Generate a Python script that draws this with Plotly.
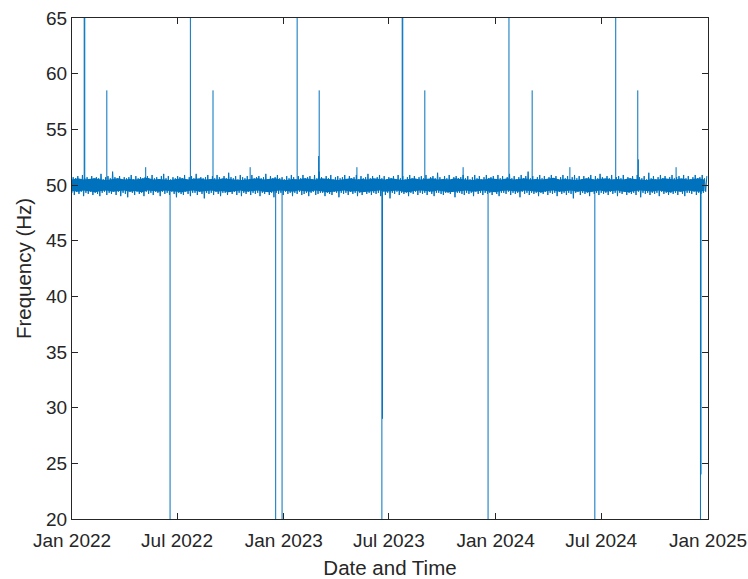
import pandas as pd
import plotly.graph_objects as go

# ---- data ----
start_date = "2022-01-01"
# background frequency samples (Hz), one every 2 days
noise_hz = [
    49.3,50.7,49.1,50.6,49.4,50.8,49.2,50.5,49.4,50.9,49.0,50.6,49.3,50.7,49.2,50.5,49.4,50.8,49.1,50.6,
    49.3,50.7,49.2,50.6,49.0,51.0,49.3,50.5,49.4,50.7,49.1,50.8,49.3,50.6,49.2,51.2,49.4,50.7,49.1,50.6,
    49.4,50.8,49.0,50.5,49.3,50.7,49.2,50.6,48.9,50.7,49.4,50.9,49.3,50.5,49.1,50.8,49.4,50.6,49.2,50.7,
    49.3,50.6,49.0,50.7,49.4,50.8,49.2,50.5,49.3,50.9,49.1,50.6,49.4,50.7,49.3,50.5,49.0,50.8,49.4,51.0,
    49.2,50.6,49.3,50.8,49.1,50.5,49.4,50.7,49.2,50.6,48.9,50.8,49.3,50.7,49.2,50.6,49.1,50.9,49.4,50.5,
    49.2,50.7,49.0,50.8,49.3,50.6,49.3,51.0,49.1,50.5,49.4,50.7,49.2,50.6,48.8,50.7,49.3,50.9,49.2,50.5,
    49.3,50.8,49.1,50.6,49.4,50.9,49.2,50.7,49.0,50.5,49.3,50.8,49.3,50.6,49.1,51.1,49.4,50.7,49.2,50.6,
    49.4,50.8,49.1,50.5,49.3,50.9,49.0,50.7,49.3,50.6,49.2,50.8,49.4,50.5,49.1,50.9,49.3,50.6,49.2,50.7,
    49.3,50.8,49.0,50.6,49.3,50.7,49.2,51.0,49.4,50.5,49.1,50.8,49.3,50.6,48.9,50.7,49.3,50.9,49.2,50.6,
    49.3,50.7,49.1,50.5,49.4,50.8,49.2,50.6,49.3,50.9,49.0,50.7,49.3,50.5,49.2,50.8,49.4,50.6,49.1,50.9,
    49.2,50.6,49.3,50.7,49.0,50.8,49.3,50.5,49.4,50.9,49.1,50.6,49.2,51.2,49.3,50.7,49.3,50.5,49.0,50.8,
    49.3,50.6,49.2,50.9,49.1,50.5,49.4,50.7,49.3,50.8,48.9,50.6,49.3,50.7,49.2,50.9,49.3,50.5,49.1,50.8,
    49.4,50.6,49.2,50.7,49.3,50.9,49.0,50.5,49.3,50.8,49.1,50.6,49.4,50.7,49.2,51.0,49.3,50.6,49.1,50.8,
    49.3,50.5,49.2,50.7,49.3,50.9,49.0,50.6,49.4,50.8,49.1,50.5,49.3,50.7,48.8,50.6,49.3,50.8,49.2,50.5,
    49.4,50.9,49.1,50.6,49.3,50.8,49.2,50.5,49.3,50.7,49.0,50.9,49.3,50.6,49.2,50.8,49.4,50.5,49.1,50.7,
    49.3,50.8,49.2,50.6,49.3,50.9,49.1,50.5,49.4,50.7,49.2,50.8,49.0,50.6,49.3,51.1,49.3,50.7,49.2,50.5,
    49.1,50.8,49.3,50.6,49.3,50.9,49.2,50.5,49.4,50.7,48.9,50.8,49.3,50.6,49.3,50.7,49.2,50.9,49.1,50.6,
    49.3,50.8,49.2,50.5,49.3,50.7,49.0,50.9,49.4,50.6,49.2,50.8,49.3,50.5,49.1,50.7,49.3,50.9,49.2,50.6,
    49.3,50.7,49.1,50.8,49.4,50.5,49.2,50.9,49.0,50.6,49.3,50.8,49.3,50.5,49.2,50.7,49.4,51.0,49.1,50.6,
    49.3,50.8,49.2,50.5,49.3,50.7,48.9,50.9,49.4,50.6,49.2,50.8,49.3,51.2,49.1,50.6,49.3,50.8,49.2,50.5,
    49.3,50.7,49.0,50.9,49.3,50.6,49.2,50.8,49.4,50.5,49.1,50.7,49.3,50.9,49.2,50.6,49.3,50.8,49.0,50.5,
    49.4,50.7,49.2,50.9,49.3,50.6,49.1,50.8,49.3,50.5,49.2,50.7,48.8,50.9,49.3,50.6,49.4,50.8,49.1,50.5,
    49.3,50.8,49.2,50.6,49.3,50.7,49.0,50.9,49.4,50.5,49.2,50.8,49.3,50.6,49.1,51.0,49.3,50.7,49.2,50.5,
    49.3,50.8,49.1,50.6,49.4,50.9,49.2,50.5,49.3,50.7,49.0,50.8,49.3,50.6,49.2,50.9,49.4,50.5,49.1,50.7,
    49.3,50.6,49.2,50.8,49.3,50.5,49.1,50.9,49.4,50.7,48.9,50.6,49.3,50.8,49.2,50.5,49.3,51.1,49.1,50.6,
    49.3,50.8,49.2,50.5,49.3,50.7,49.0,50.9,49.4,50.6,49.2,50.8,49.3,50.5,49.1,50.7,49.3,50.9,49.2,50.6,
    49.3,50.7,49.1,50.8,49.4,50.5,49.2,50.9,49.0,50.6,49.3,50.8,49.3,50.5,49.2,50.7,49.4,50.9,49.1,50.6,
    49.3,50.7,49.2,50.9,49.3,50.6,49.4,50.8,
]

# dense core of the band (Hz): upper and lower edge, one pair every 10 days
band_high = [
    50.5,50.6,50.5,50.55,50.6,50.5,50.45,50.55,50.6,50.5,
    50.55,50.5,50.6,50.65,50.5,50.55,50.5,50.45,50.55,50.6,
    50.5,50.55,50.6,50.5,50.55,50.5,50.6,50.55,50.5,50.45,
    50.5,50.55,50.6,50.5,50.55,50.6,50.5,50.45,50.55,50.5,
    50.6,50.55,50.5,50.6,50.55,50.5,50.45,50.55,50.6,50.5,
    50.55,50.5,50.6,50.55,50.5,50.6,50.5,50.45,50.55,50.6,
    50.5,50.55,50.6,50.5,50.55,50.5,50.6,50.55,50.5,50.45,
    50.55,50.5,50.6,50.55,50.5,50.6,50.5,50.55,50.6,50.5,
    50.55,50.5,50.6,50.65,50.5,50.55,50.5,50.45,50.55,50.6,
    50.5,50.55,50.6,50.5,50.55,50.5,50.6,50.55,50.5,50.45,
    50.55,50.5,50.6,50.55,50.5,50.6,50.5,50.55,50.6,50.5,
]
band_low = [
    49.45,49.4,49.5,49.45,49.35,49.45,49.5,49.4,49.45,49.5,
    49.4,49.45,49.35,49.5,49.45,49.4,49.5,49.45,49.4,49.35,
    49.45,49.5,49.4,49.45,49.5,49.4,49.45,49.35,49.45,49.5,
    49.4,49.45,49.5,49.4,49.35,49.45,49.5,49.45,49.4,49.5,
    49.45,49.4,49.5,49.45,49.35,49.4,49.45,49.5,49.4,49.45,
    49.35,49.4,49.45,49.5,49.4,49.45,49.5,49.4,49.35,49.45,
    49.5,49.45,49.4,49.5,49.45,49.35,49.4,49.45,49.5,49.4,
    49.45,49.5,49.4,49.35,49.45,49.5,49.45,49.4,49.5,49.45,
    49.4,49.35,49.45,49.5,49.4,49.45,49.5,49.4,49.45,49.35,
    49.45,49.5,49.4,49.45,49.5,49.4,49.35,49.45,49.5,49.45,
    49.4,49.5,49.45,49.35,49.45,49.4,49.5,49.45,49.4,49.45,
]

# upward excursions (dates and peak values in Hz; 70 = off the top of the axis)
up_dates = ["2022-01-22", "2022-01-23", "2022-03-02", "2022-05-08", "2022-07-24",
            "2022-09-01", "2022-11-04", "2023-01-24", "2023-03-02", "2023-03-03",
            "2023-05-07", "2023-07-24", "2023-07-25", "2023-09-01", "2023-11-06",
            "2024-01-24", "2024-03-04", "2024-05-08", "2024-07-26", "2024-09-02",
            "2024-09-03", "2024-11-07"]
up_peaks = [70, 70, 58.5, 51.6, 70,
            58.5, 51.6, 70, 52.6, 58.5,
            51.6, 70, 70, 58.5, 51.6,
            70, 58.5, 51.6, 70, 58.5,
            52.3, 51.6]

# downward excursions (dates and trough values in Hz)
down_dates = ["2022-06-19", "2022-12-18", "2022-12-29", "2023-06-19", "2023-06-20",
              "2023-12-19", "2024-06-20", "2024-12-19", "2024-12-20"]
down_troughs = [20, 20, 20, 20, 29, 20, 20, 20, 24]

base_hz = 50.0
x_tick_dates = ["2022-01-01", "2022-07-01", "2023-01-01", "2023-07-01",
                "2024-01-01", "2024-07-01", "2025-01-01"]
x_tick_labels = ["Jan 2022", "Jul 2022", "Jan 2023", "Jul 2023",
                 "Jan 2024", "Jul 2024", "Jan 2025"]
y_ticks = [20, 25, 30, 35, 40, 45, 50, 55, 60, 65]

# ---- build figure ----
COL = "#0072BD"
AX = "#262626"
FONT = "Liberation Sans, Arial, Helvetica, sans-serif"

noise_dates = pd.date_range(start_date, periods=len(noise_hz), freq="2D")
band_dates = pd.date_range(start_date, periods=len(band_high), freq="10D")

ex_x, ex_y = [], []
for d, v in list(zip(up_dates, up_peaks)) + list(zip(down_dates, down_troughs)):
    ex_x += [pd.Timestamp(d), pd.Timestamp(d), None]
    ex_y += [base_hz, v, None]

fig = go.Figure()
fig.add_trace(go.Scatter(x=band_dates, y=band_low, mode="lines",
                         line=dict(color=COL, width=0), showlegend=False,
                         hoverinfo="skip"))
fig.add_trace(go.Scatter(x=band_dates, y=band_high, mode="lines",
                         line=dict(color=COL, width=0), fill="tonexty",
                         fillcolor=COL, showlegend=False, hoverinfo="skip"))
fig.add_trace(go.Scatter(x=noise_dates, y=noise_hz, mode="lines",
                         line=dict(color=COL, width=1), showlegend=False,
                         hoverinfo="skip"))
fig.add_trace(go.Scatter(x=ex_x, y=ex_y, mode="lines",
                         line=dict(color=COL, width=1), showlegend=False,
                         hoverinfo="skip", connectgaps=False))

fig.update_layout(
    width=748, height=579,
    margin=dict(l=72, r=40, t=18, b=60, autoexpand=False),
    paper_bgcolor="white", plot_bgcolor="white",
    font=dict(family=FONT, color=AX, size=19),
    showlegend=False,
)
fig.update_xaxes(
    range=[pd.Timestamp("2022-01-01"), pd.Timestamp("2025-01-01")],
    tickmode="array", tickvals=x_tick_dates, ticktext=x_tick_labels,
    ticks="inside", ticklen=6, tickwidth=1, tickcolor=AX,
    showline=True, linecolor=AX, linewidth=1, mirror="ticks",
    showgrid=False, zeroline=False, automargin=False,
    tickfont=dict(size=19, color=AX), ticklabelstandoff=4,
    title=dict(text="Date and Time", font=dict(size=20.5, color=AX), standoff=14),
)
fig.update_yaxes(
    range=[20, 65], tickmode="array", tickvals=y_ticks,
    ticks="inside", ticklen=6, tickwidth=1, tickcolor=AX,
    showline=True, linecolor=AX, linewidth=1, mirror="ticks",
    showgrid=False, zeroline=False, automargin=False,
    tickfont=dict(size=19, color=AX),
    title=dict(text="Frequency (Hz)", font=dict(size=20.5, color=AX), standoff=8),
)

fig.write_html("out.html")
